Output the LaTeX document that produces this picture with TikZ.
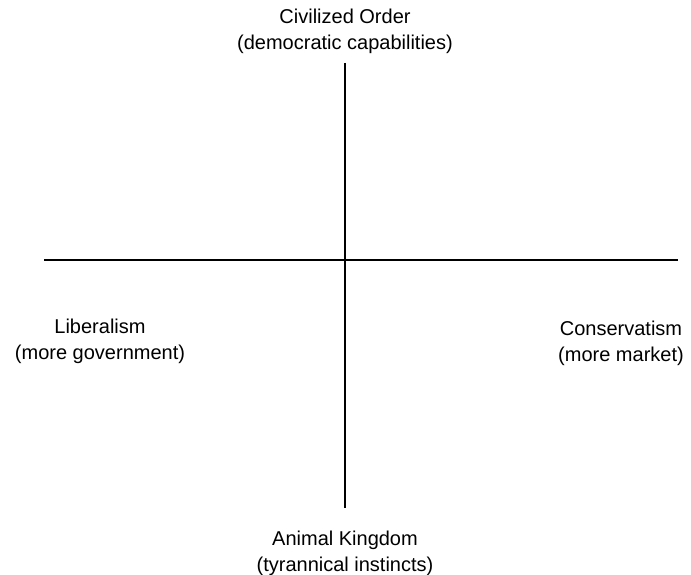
\documentclass[tikz,border=0pt]{standalone}
\usepackage{fontspec}
\setmainfont{Liberation Sans}
\begin{document}
\begin{tikzpicture}[x=1pt,y=-1pt,
  axis/.style={line width=1.1pt,black},
  lbl/.style={align=center,inner sep=0pt,font=\fontsize{20}{26}\selectfont}]
\useasboundingbox (0,0) rectangle (691,575);
\coordinate (top) at (345,63);
\coordinate (bot) at (345,508);
\coordinate (left) at (44,260);
\coordinate (right) at (678,260);
\draw[axis] (top) -- (bot);
\draw[axis] (left) -- (right);
\node[lbl] (civ) at (345,31) {Civilized Order\\(democratic capabilities)};
\node[lbl] (lib) at (100,341) {Liberalism\\(more government)};
\node[lbl] (con) at (621,343) {Conservatism\\(more market)};
\node[lbl] (ani) at (345,553) {Animal Kingdom\\(tyrannical instincts)};
\end{tikzpicture}
\end{document}
